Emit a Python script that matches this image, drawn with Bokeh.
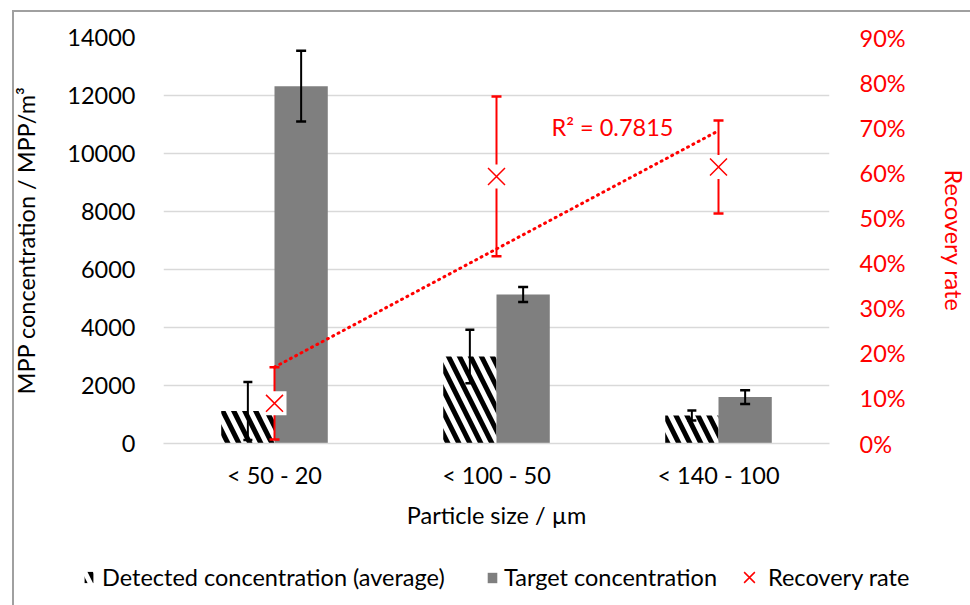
import numpy as np
from bokeh.plotting import figure
from bokeh.layouts import column
from bokeh.models import (ColumnDataSource, FactorRange, Range1d, LinearAxis, FixedTicker,
                          Legend, LegendItem, NumeralTickFormatter)
from bokeh.transform import dodge
from bokeh.core.properties import value
from bokeh.embed import file_html
from bokeh.resources import INLINE

# ---------------- data ----------------
categories = ["< 50 - 20", "< 100 - 50", "< 140 - 100"]
detected = [1120, 3000, 965]
detected_err = [1000, 920, 170]
target = [12320, 5140, 1600]
target_err = [1220, 260, 240]
recovery = [0.089, 0.592, 0.613]
recovery_err = [0.080, 0.177, 0.103]
left_ticks = [0, 2000, 4000, 6000, 8000, 10000, 12000, 14000]
right_ticks = [0.0, 0.1, 0.2, 0.3, 0.4, 0.5, 0.6, 0.7, 0.8, 0.9]
r2_text = "R² = 0.7815"
series_names = ["Detected concentration (average)", "Target concentration", "Recovery rate"]

FONT = "Lato"
FS = "23.5px"

# style dictionaries shared by the chart and the legend
HATCH = dict(fill_color="white", line_color=None, hatch_pattern="\\", hatch_color="black",
             hatch_weight=5, hatch_scale=22)
GRAY = dict(fill_color="#7f7f7f", line_color=None)
XMK = dict(marker="x", line_color="red", line_width=1.5)

src = ColumnDataSource(dict(
    cat=categories,
    det=detected, det_lo=[v - e for v, e in zip(detected, detected_err)],
    det_hi=[v + e for v, e in zip(detected, detected_err)],
    tgt=target, tgt_lo=[v - e for v, e in zip(target, target_err)],
    tgt_hi=[v + e for v, e in zip(target, target_err)],
    rec=recovery, rec_lo=[v - e for v, e in zip(recovery, recovery_err)],
    rec_hi=[v + e for v, e in zip(recovery, recovery_err)],
))

p = figure(width=970, height=540,
           x_range=FactorRange(factors=categories, range_padding=0),
           y_range=Range1d(0, 14000),
           output_backend="svg", toolbar_location=None,
           min_border_left=163, min_border_right=130,
           min_border_top=37, min_border_bottom=97)
p.frame_align = False
p.extra_y_ranges = {"rec": Range1d(0, 0.9)}
p.outline_line_color = None
p.background_fill_color = "white"
p.border_fill_alpha = 0

# grid
p.xgrid.grid_line_color = None
p.ygrid.grid_line_color = "#d9d9d9"
p.ygrid.grid_line_width = 1.5
p.yaxis.ticker = FixedTicker(ticks=left_ticks)

# left axis
ya = p.yaxis[0]
ya.axis_line_color = None
ya.major_tick_line_color = None
ya.minor_tick_line_color = None
ya.major_label_text_font = FONT
ya.major_label_text_font_size = FS
ya.major_label_text_color = "black"
ya.major_label_standoff = 22
ya.axis_label = "MPP concentration / MPP/m³"
ya.axis_label_text_font = FONT
ya.axis_label_text_font_size = FS
ya.axis_label_text_font_style = "normal"
ya.axis_label_text_color = "black"
ya.axis_label_standoff = 24

# right axis
ra = LinearAxis(y_range_name="rec", ticker=FixedTicker(ticks=right_ticks),
                formatter=NumeralTickFormatter(format="0%"))
ra.axis_line_color = None
ra.major_tick_line_color = None
ra.minor_tick_line_color = None
ra.major_label_text_font = FONT
ra.major_label_text_font_size = FS
ra.major_label_text_color = "red"
ra.major_label_standoff = 24
ra.axis_label = "Recovery rate"
ra.axis_label_text_font = FONT
ra.axis_label_text_font_size = FS
ra.axis_label_text_font_style = "normal"
ra.axis_label_text_color = "red"
ra.axis_label_standoff = 31
p.add_layout(ra, "right")

# bottom axis
xa = p.xaxis[0]
xa.axis_line_color = "#d9d9d9"
xa.axis_line_width = 1.5
xa.major_tick_line_color = None
xa.minor_tick_line_color = None
xa.major_label_text_font = FONT
xa.major_label_text_font_size = FS
xa.major_label_text_color = "black"
xa.major_label_standoff = 11
xa.axis_label = "Particle size / µm"
xa.axis_label_text_font = FONT
xa.axis_label_text_font_size = FS
xa.axis_label_text_font_style = "normal"
xa.axis_label_text_color = "black"
xa.axis_label_standoff = 9

OFF = 0.12
W = 0.24
xd = dodge("cat", -OFF, range=p.x_range)
xt = dodge("cat", OFF, range=p.x_range)

p.vbar(x=xd, top="det", width=W, source=src, **HATCH)
p.vbar(x=xt, top="tgt", width=W, source=src, **GRAY)

# black error bars
for xx, lo, hi, cap in [(xd, "det_lo", "det_hi", 9), (xt, "tgt_lo", "tgt_hi", 10)]:
    p.segment(x0=xx, y0=lo, x1=xx, y1=hi, source=src, line_color="black", line_width=2)
    p.scatter(x=xx, y=lo, source=src, marker="dash", size=cap, line_color="black", line_width=2.5)
    p.scatter(x=xx, y=hi, source=src, marker="dash", size=cap, line_color="black", line_width=2.5)

# trendline (linear fit on recovery)
xi = np.arange(1, len(recovery) + 1)
coef = np.polyfit(xi, recovery, 1)
fit = list(np.polyval(coef, xi))
p.line(x=categories, y=fit, y_range_name="rec", line_color="red", line_width=3,
       line_dash="1 5", line_cap="round")

# red error bars
p.segment(x0="cat", y0="rec_lo", x1="cat", y1="rec_hi", source=src, y_range_name="rec",
          line_color="red", line_width=2)
p.scatter(x="cat", y="rec_lo", source=src, y_range_name="rec", marker="dash", size=10,
          line_color="red", line_width=2.5)
p.scatter(x="cat", y="rec_hi", source=src, y_range_name="rec", marker="dash", size=10,
          line_color="red", line_width=2.5)
p.scatter(x="cat", y="rec", source=src, y_range_name="rec", marker="square", size=24,
          fill_color="white", line_color=None)
p.scatter(x="cat", y="rec", source=src, y_range_name="rec", size=24, **XMK)

# R² annotation next to the trendline
r2_src = ColumnDataSource(dict(x=[categories[1]], y=[fit[1] + 0.27], t=[r2_text]))
p.text(x="x", y="y", text="t", source=r2_src, y_range_name="rec", x_offset=55,
       text_font=value(FONT), text_font_size=FS, text_color="red", text_baseline="middle")

# ---------------- legend strip ----------------
lg = figure(width=970, height=65, x_range=Range1d(0, 1), y_range=Range1d(0, 1),
            output_backend="svg", toolbar_location=None, min_border=0,
            x_axis_location=None, y_axis_location=None)
lg.frame_align = False
lg.outline_line_color = None
lg.grid.visible = False
lg.background_fill_alpha = 0
lg.border_fill_alpha = 0

# proxy renderers (outside the visible range) that carry the legend styles
def proxy():
    return ColumnDataSource(dict(x=[-10], top=[-10]))

r_det = lg.vbar(x="x", top="top", width=0.1, source=proxy(), **HATCH)
r_tgt = lg.vbar(x="x", top="top", width=0.1, source=proxy(), **GRAY)
r_rec = lg.scatter(x="x", y="top", source=proxy(), size=24, **XMK)

common = dict(orientation="horizontal", border_line_color=None, background_fill_alpha=0,
              label_text_font=FONT, label_text_font_size=FS, label_text_color="black",
              padding=0, margin=0)
leg_a = Legend(items=[LegendItem(label=series_names[0], renderers=[r_det])],
               location=(83, 14), glyph_width=11, glyph_height=14, label_standoff=8, **common)
leg_b = Legend(items=[LegendItem(label=series_names[1], renderers=[r_tgt])],
               location=(486, 14), glyph_width=12, glyph_height=13, label_standoff=6, **common)
leg_c = Legend(items=[LegendItem(label=series_names[2], renderers=[r_rec])],
               location=(730, 9), glyph_width=38, glyph_height=38, label_standoff=0, **common)
for lgd in (leg_a, leg_b, leg_c):
    lg.add_layout(lgd, "center")

# thin grey chart border (left and top edges) drawn by the page container
layout = column(p, lg, spacing=0,
                styles={"background-color": "white",
                        "box-shadow": "inset 12px 10px 0 0 white, inset 14px 12px 0 0 #a0a0a0"})

open("out.html", "w").write(file_html(layout, INLINE))
